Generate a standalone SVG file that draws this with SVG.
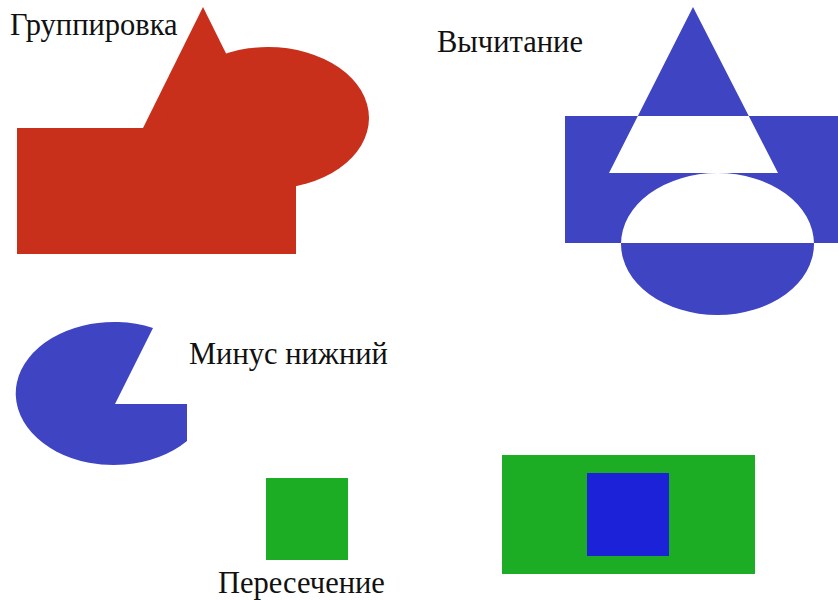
<svg xmlns="http://www.w3.org/2000/svg" width="838" height="600" viewBox="0 0 838 600">
<style>
.t{font-family:"Liberation Serif","Times New Roman",serif;font-size:30.5px;fill:#111}
.red{fill:#C8301B}
.blue{fill:#3E44C2}
.green{fill:#1CAD24}
.deep{fill:#1B22D8}
</style>
<rect width="838" height="600" fill="#fff"/>
<g id="grouping">
<rect class="red" x="17" y="128" width="279" height="126"/>
<polygon class="red" points="203,7 143,128 263,128"/>
<ellipse class="red" cx="268" cy="118" rx="101" ry="71"/>
<text class="t" x="10" y="35">Группировка</text>
</g>
<g id="subtraction">
<path class="blue" fill-rule="evenodd" d="M565 116 H838 V243 H565 Z M693 7 L778 173 L609 173 Z M621 244 A96.5 71 0 1 0 814 244 A96.5 71 0 1 0 621 244 Z"/>
<text class="t" x="437" y="52">Вычитание</text>
</g>
<g id="minus-lower">
<path class="blue" d="M115 404 L153 328 A98 71.5 0 1 0 187 441 L187 404 Z"/>
<text class="t" x="189" y="364">Минус нижний</text>
</g>
<g id="intersection">
<rect class="green" x="266" y="478" width="82" height="82"/>
<text class="t" x="218" y="593">Пересечение</text>
</g>
<g id="result">
<rect class="green" x="502" y="455" width="253" height="119"/>
<rect class="deep" x="587" y="473" width="82" height="83"/>
</g>
</svg>
